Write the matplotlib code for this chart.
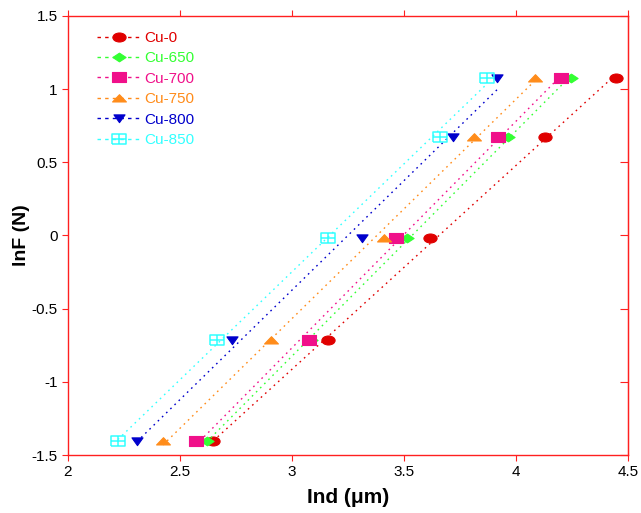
import numpy as np
import matplotlib
matplotlib.use("Agg")
import matplotlib.pyplot as plt
from matplotlib.path import Path

plt.rcParams['font.family'] = ['Liberation Sans', 'DejaVu Sans']

# lnF levels (N) and indentation depths (um) for each sample
lnF = [-1.406, -0.713, -0.020, 0.673, 1.078]
samples = ["Cu-0", "Cu-650", "Cu-700", "Cu-750", "Cu-800", "Cu-850"]
ind = {
    "Cu-0":   [2.649, 3.159, 3.616, 4.131, 4.446],
    "Cu-650": [2.619, 3.085, 3.512, 3.963, 4.246],
    "Cu-700": [2.571, 3.075, 3.463, 3.918, 4.200],
    "Cu-750": [2.424, 2.905, 3.410, 3.810, 4.085],
    "Cu-800": [2.308, 2.733, 3.311, 3.720, 3.915],
    "Cu-850": [2.223, 2.664, 3.160, 3.660, 3.870],
}
colors = ["#e00000", "#33ff33", "#f0108a", "#ff8c1a", "#0000cc", "#33ffff"]

# custom (flattened) marker shapes
C = [Path.MOVETO, Path.LINETO, Path.LINETO, Path.LINETO, Path.CLOSEPOLY]
ellipse = Path.unit_circle().transformed(matplotlib.transforms.Affine2D().scale(1.0, 0.68))
diamond = Path([(-1, 0), (0, 0.66), (1, 0), (0, -0.66), (-1, 0)], C)
wsquare = Path([(-1, -0.7), (1, -0.7), (1, 0.7), (-1, 0.7), (-1, -0.7)], C)
tri_up = Path([(-1, -0.5), (1, -0.5), (0, 0.55), (-1, -0.5)],
              [Path.MOVETO, Path.LINETO, Path.LINETO, Path.CLOSEPOLY])
tri_dn = Path([(-1, 0.65), (1, 0.65), (0, -0.75), (-1, 0.65)],
              [Path.MOVETO, Path.LINETO, Path.LINETO, Path.CLOSEPOLY])
gridbox = Path([(-1, -0.68), (1, -0.68), (1, 0.68), (-1, 0.68), (-1, -0.68),
                (-1, 0), (1, 0), (0, -0.68), (0, 0.68)],
               [Path.MOVETO, Path.LINETO, Path.LINETO, Path.LINETO, Path.LINETO,
                Path.MOVETO, Path.LINETO, Path.MOVETO, Path.LINETO])
markers = [ellipse, diamond, wsquare, tri_up, tri_dn, gridbox]
sizes = [9.5, 9.5, 10, 10, 8, 10]

fig = plt.figure(figsize=(6.41, 5.13), dpi=100)
ax = fig.add_axes([0.106, 0.113, 0.874, 0.856])

handles = []
for name, c, m, s in zip(samples, colors, markers, sizes):
    x = np.array(ind[name])
    y = np.array(lnF)
    b, a = np.polyfit(x, y, 1)
    xf = np.array([x.min(), x.max()])
    ax.plot(xf, a + b * xf, color=c, lw=1, ls=(0, (1.2, 3)))
    hollow = m is gridbox
    ax.plot(x, y, ls="none", marker=m, ms=s, mfc="none" if hollow else c,
            mec=c, mew=1.1 if hollow else 0.8)
    h, = ax.plot([], [], color=c, lw=1, ls=(0, (2.5, 3)), marker=m, ms=s,
                 mfc="none" if hollow else c, mec=c,
                 mew=1.1 if hollow else 0.8, label=name)
    handles.append(h)

ax.legend(handles=handles, loc="upper left", bbox_to_anchor=(0.027, 0.997),
          frameon=False, fontsize=11, handlelength=2.9, handletextpad=0.2,
          labelspacing=0.42, labelcolor="linecolor")

ax.set_xlim(2, 4.5)
ax.set_ylim(-1.5, 1.5)
ax.set_xticks([2, 2.5, 3, 3.5, 4, 4.5])
ax.set_xticklabels(["2", "2.5", "3", "3.5", "4", "4.5"])
ax.set_yticks([-1.5, -1, -0.5, 0, 0.5, 1, 1.5])
ax.set_yticklabels(["-1.5", "-1", "-0.5", "0", "0.5", "1", "1.5"])

for sp in ax.spines.values():
    sp.set_color("#ff2020")
    sp.set_linewidth(1)
ax.tick_params(axis="both", direction="out", length=4, color="#ff2020",
               labelsize=11, labelcolor="black", top=True)
ax.tick_params(axis="x", which="both", labeltop=False)

# right-side ticks point inward
sec = ax.secondary_yaxis("right")
sec.set_yticks([-1.5, -1, -0.5, 0, 0.5, 1, 1.5])
sec.tick_params(direction="in", length=6, color="#ff2020", labelright=False)
sec.spines["right"].set_color("#ff2020")

ax.set_xlabel("Ind (μm)", fontsize=15, fontweight="bold", labelpad=6)
ax.set_ylabel("lnF (N)", fontsize=14, fontweight="bold", labelpad=1)

fig.savefig("out.png", dpi=100)
